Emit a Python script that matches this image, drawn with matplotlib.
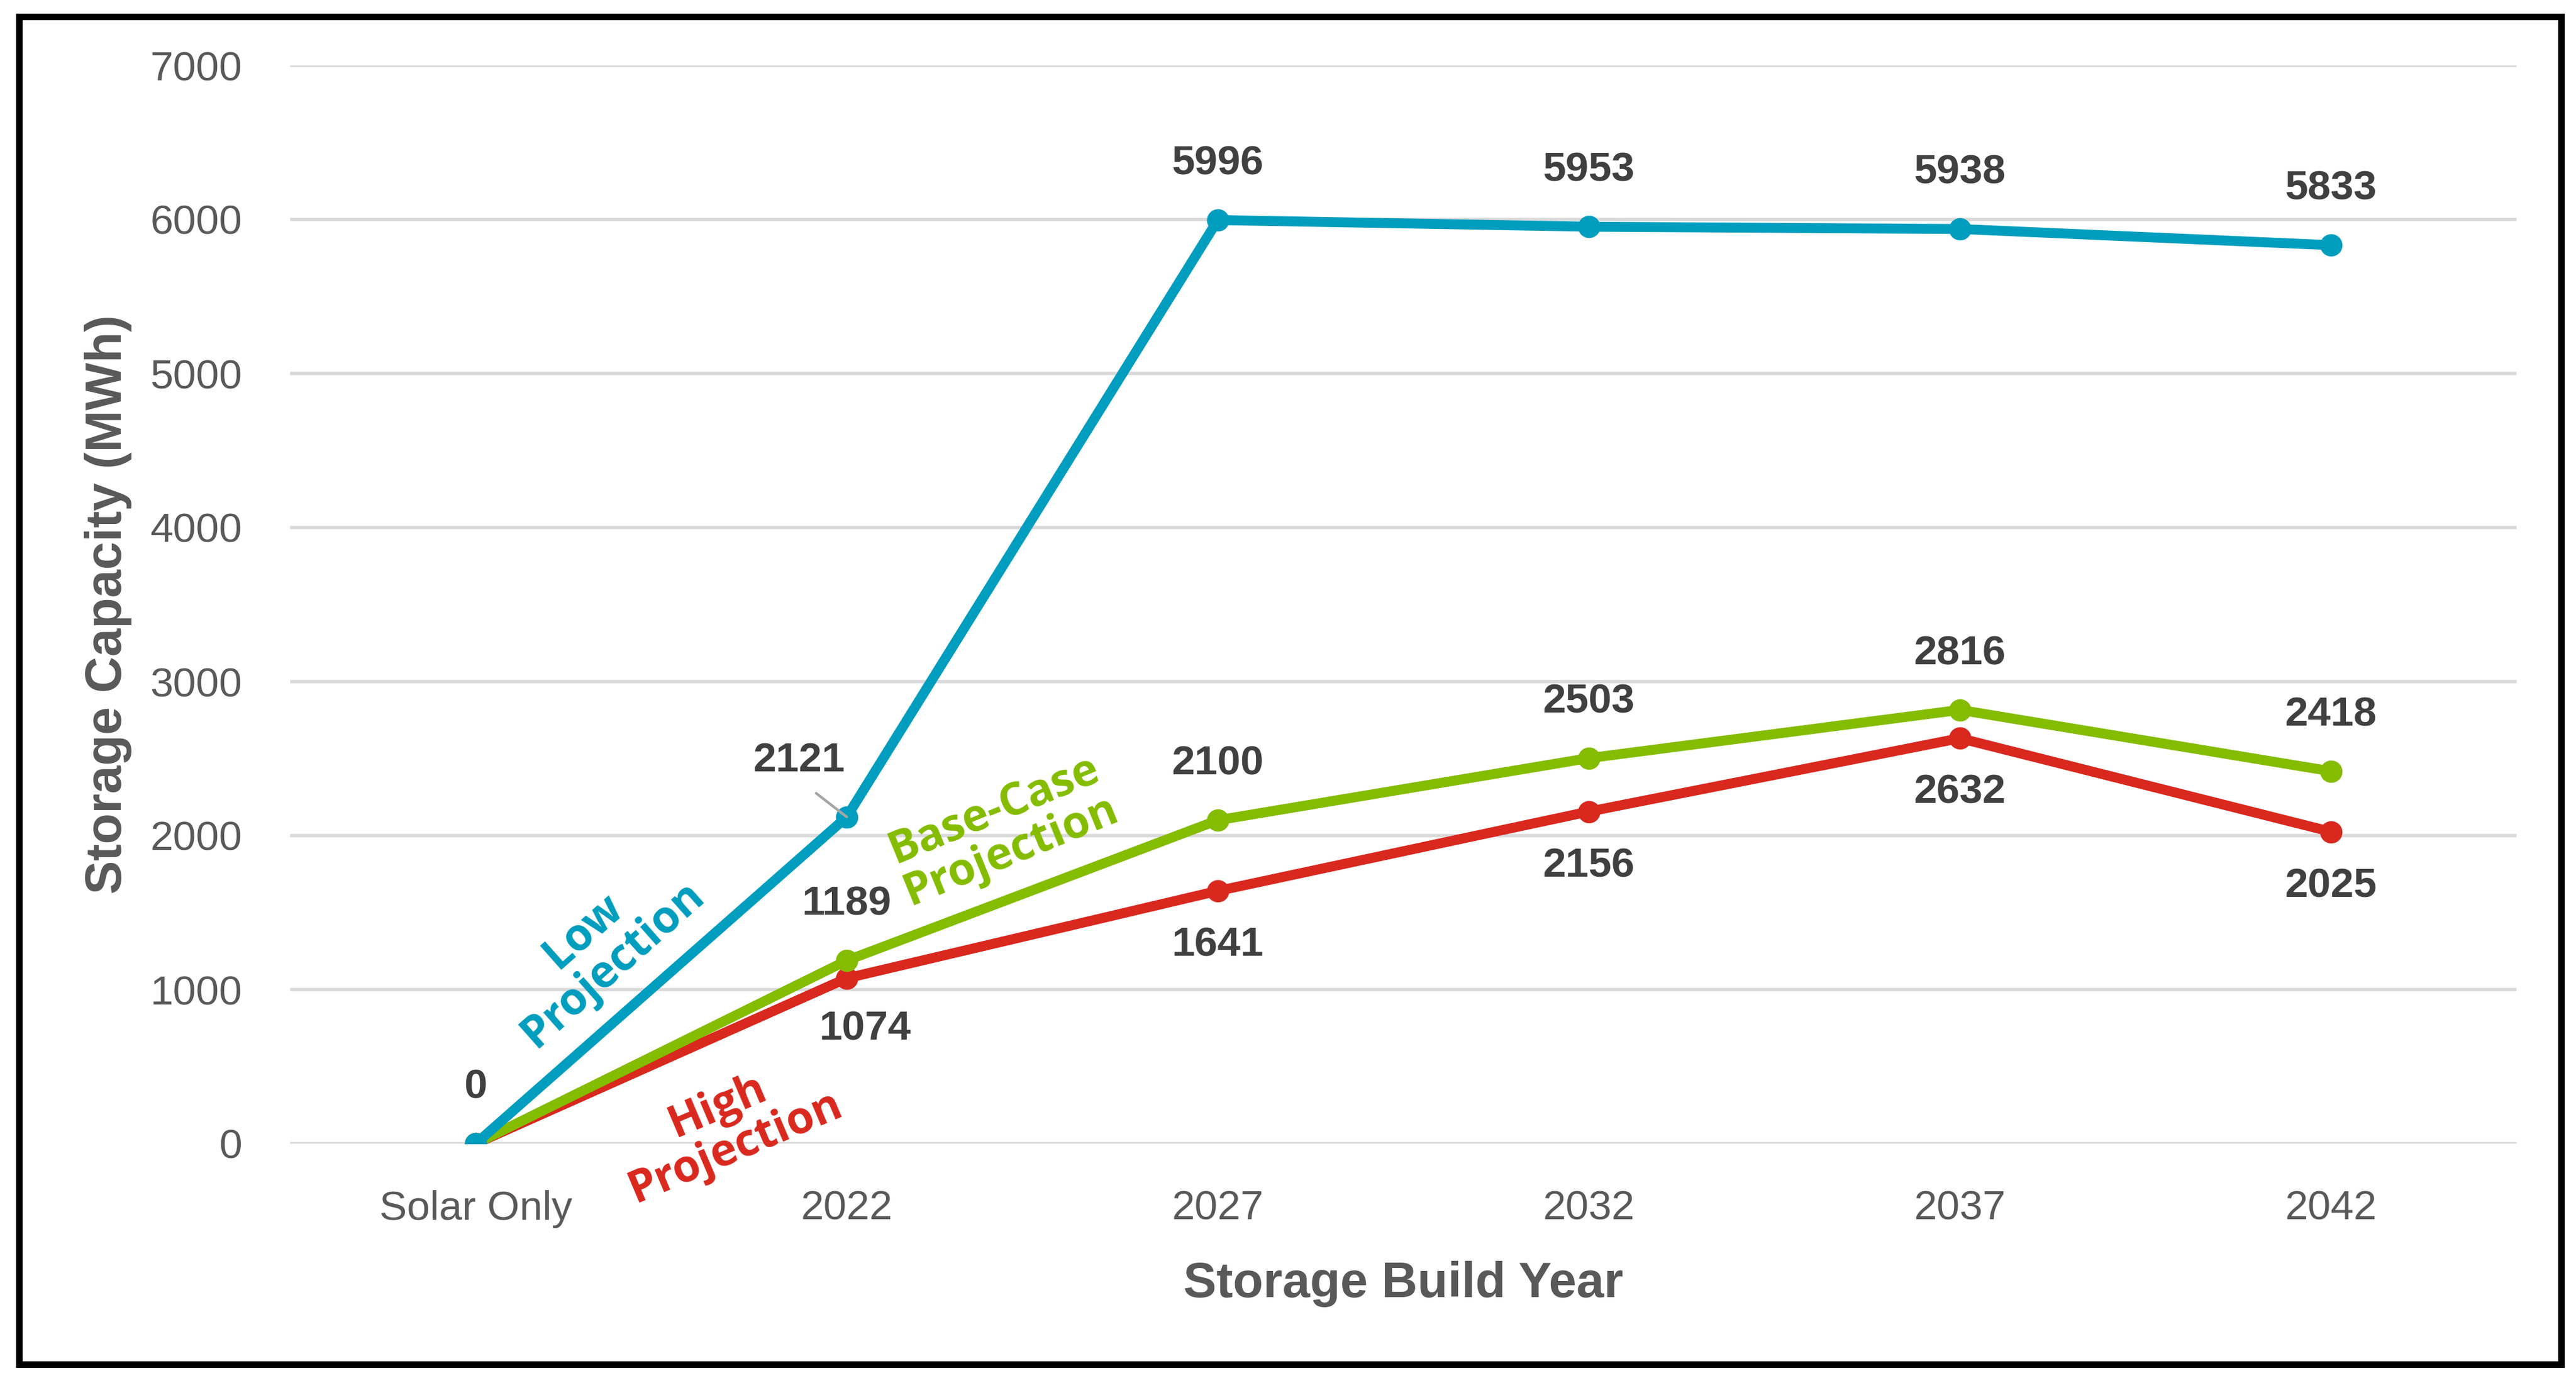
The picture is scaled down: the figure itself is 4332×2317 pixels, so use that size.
import matplotlib
matplotlib.use("Agg")
import matplotlib.pyplot as plt
from matplotlib.patches import Rectangle

# data
categories = ["Solar Only", "2022", "2027", "2032", "2037", "2042"]
low = [0, 2121, 5996, 5953, 5938, 5833]
base = [0, 1189, 2100, 2503, 2816, 2418]
high = [0, 1074, 1641, 2156, 2632, 2025]

c_low = "#009DBE"
c_base = "#84BC00"
c_high = "#D9281E"
c_lab = "#404040"
c_axis = "#595959"

plt.rcParams["font.family"] = ["Liberation Sans", "DejaVu Sans"]

W, H, DPI = 4332, 2317, 200
fig = plt.figure(figsize=(W / DPI, H / DPI), dpi=DPI)
ax = fig.add_axes([488 / W, 1 - 1923 / H, (4232 - 488) / W, (1923 - 110) / H])

x = list(range(len(categories)))
for vals, col in [(high, c_high), (base, c_base), (low, c_low)]:
    ax.plot(x, vals, "-o", color=col, lw=6, ms=12.5, zorder=3)

ax.set_xlim(-0.5, len(categories) - 0.5)
ax.set_ylim(0, 7000)
ax.set_yticks(range(0, 7001, 1000))
ax.set_xticks(x)
ax.set_xticklabels(categories)
ax.tick_params(length=0, labelsize=25, colors=c_axis, pad=28)
ax.tick_params(axis="y", pad=29)
ax.grid(axis="y", color="#D9D9D9", lw=2.0)
ax.set_axisbelow(True)
for s in ax.spines.values():
    s.set_visible(False)

ax.set_xlabel("Storage Build Year", fontsize=30, fontweight="bold", color=c_axis, labelpad=20)
ax.set_ylabel("Storage Capacity (MWh)", fontsize=30.5, fontweight="bold", color=c_axis, labelpad=11)

lab = dict(fontsize=25, fontweight="bold", color=c_lab, ha="center", va="center",
           textcoords="offset points")

# data labels
for i, v in enumerate(low):
    if i == 1:
        ax.annotate(str(v), (i, v), xytext=(-29, 34),
                    arrowprops=dict(arrowstyle="-", color="#A6A6A6", lw=1.6,
                                    relpos=(0.5, 0), shrinkA=10, shrinkB=0), **lab)
    else:
        ax.annotate(str(v), (i, v), xytext=(0, 34), **lab)
for i, v in enumerate(base):
    if i > 0:
        ax.annotate(str(v), (i, v), xytext=(0, 34), **lab)
for i, v in enumerate(high):
    if i == 1:
        ax.annotate(str(v), (i, v), xytext=(11, -31), **lab)
    elif i > 0:
        ax.annotate(str(v), (i, v), xytext=(0, -33), **lab)

# series labels
ser = dict(fontsize=27, fontweight="bold", family=["Open Sans", "DejaVu Sans"],
           ha="center", va="center", multialignment="center", rotation_mode="anchor")
ax.text(0.33, 1270, "Low\nProjection", color=c_low, rotation=41.5, linespacing=1.0, **ser)
ax.text(1.42, 2031, "Base-Case\nProjection", color=c_base, rotation=22.3, linespacing=1.0, **ser)
ax.text(0.676, 108, "High\nProjection", color=c_high, rotation=23, linespacing=1.0, **ser)

# frame around the picture
fig.patches.append(Rectangle((32 / W, 1 - 2294 / H), (4307 - 32) / W, (2294 - 28) / H,
                             transform=fig.transFigure, fill=False, ec="black", lw=4))

fig.savefig("out.png", dpi=DPI, facecolor="white")
